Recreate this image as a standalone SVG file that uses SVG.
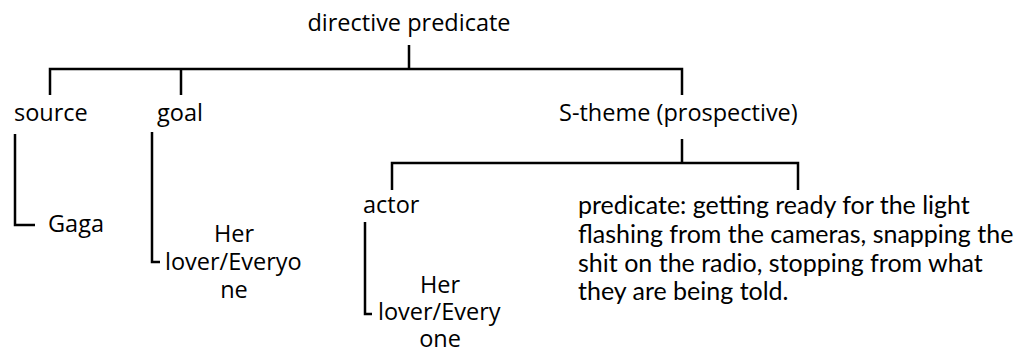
<svg xmlns="http://www.w3.org/2000/svg" width="1016" height="352" viewBox="0 0 1016 352">
<style>
.lbl{font-family:"Open Sans","DejaVu Sans",sans-serif;font-size:23.5px;fill:#000}
.pred{font-family:Lato,"Liberation Sans",sans-serif;font-size:25px;fill:#000}
.c{text-anchor:middle}
.ln{fill:none;stroke:#000;stroke-width:2.5}
</style>
<rect width="1016" height="352" fill="#fff"/>
<g id="connectors">
<path class="ln" d="M409,45V69M50,95V69H682V95M181,69V95"/>
<path class="ln" d="M15,134V225H35"/>
<path class="ln" d="M152,132V262H160"/>
<path class="ln" d="M682,139V163M392,190V163H798V190"/>
<path class="ln" d="M365,222V314H372"/>
</g>
<g id="root"><text class="lbl c" x="409" y="31">directive predicate</text></g>
<g id="source"><text class="lbl" x="14" y="121">source</text></g>
<g id="goal"><text class="lbl" x="157" y="121">goal</text></g>
<g id="stheme"><text class="lbl" x="559" y="121">S-theme (prospective)</text></g>
<g id="gaga"><text class="lbl" x="48" y="232">Gaga</text></g>
<g id="goal-value"><text class="lbl c" x="234" y="242">Her</text><text class="lbl" x="165" y="270">lover/Everyo</text><text class="lbl c" x="234" y="298">ne</text></g>
<g id="actor"><text class="lbl" x="363" y="213">actor</text></g>
<g id="actor-value"><text class="lbl c" x="440" y="293">Her</text><text class="lbl" x="378" y="320">lover/Every</text><text class="lbl c" x="440" y="347">one</text></g>
<g id="predicate"><text class="pred" x="578" y="214">predicate: getting ready for the light</text><text class="pred" x="578" y="243">flashing from the cameras, snapping the</text><text class="pred" x="578" y="272">shit on the radio, stopping from what</text><text class="pred" x="578" y="300">they are being told.</text></g>
</svg>
